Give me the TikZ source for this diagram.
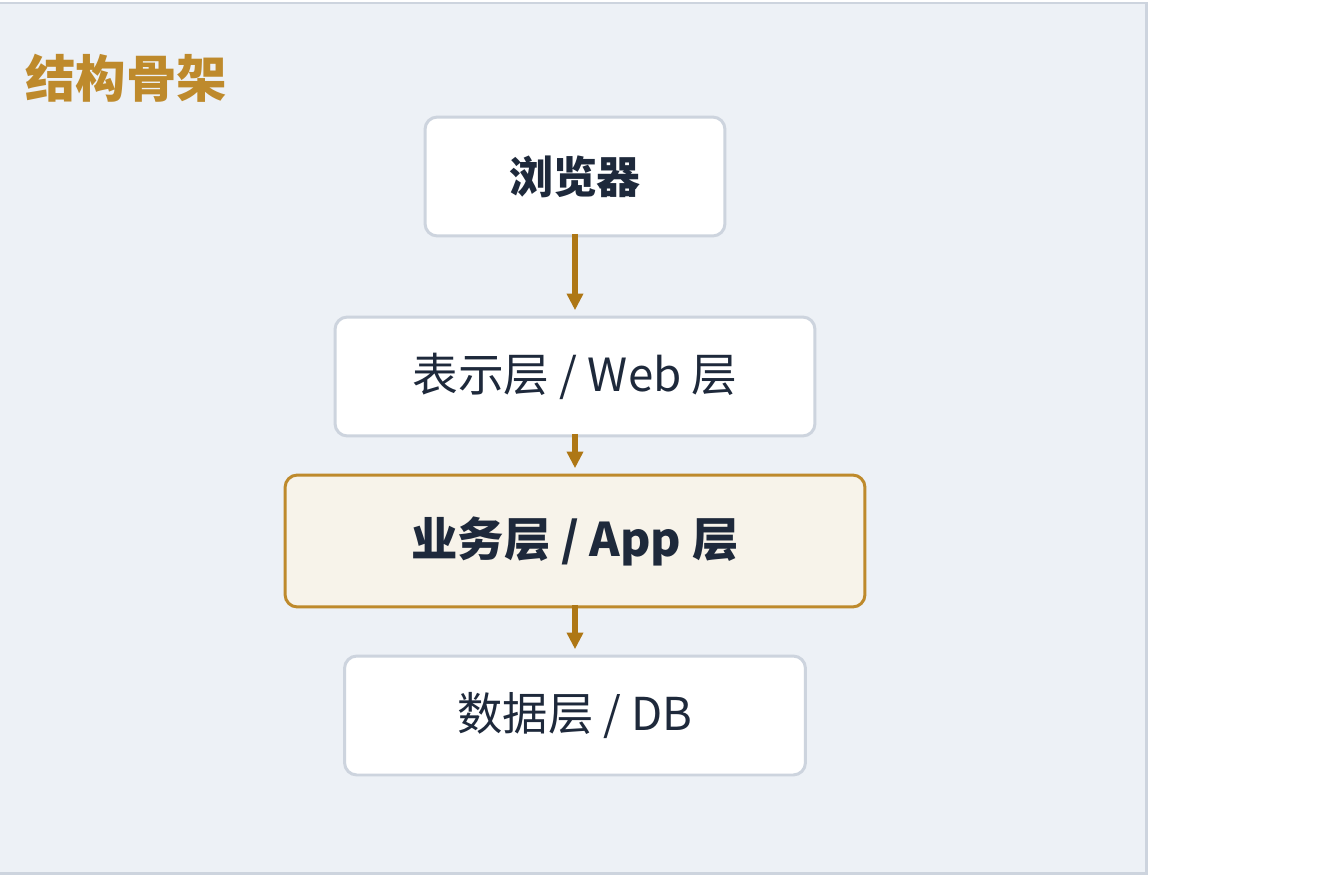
\documentclass[tikz,border=0pt]{standalone}
\usepackage{fontspec}
\setmainfont{Noto Sans CJK SC}
\usetikzlibrary{arrows.meta}

\definecolor{fond}{HTML}{EDF1F6}
\definecolor{bord}{HTML}{CDD4DE}
\definecolor{encre}{HTML}{1E293B}
\definecolor{ocre}{HTML}{BE8A2C}
\definecolor{fleche}{HTML}{AE7715}
\definecolor{creme}{HTML}{F7F3EA}

\tikzset{
  couche/.style={draw=bord, line width=1.7pt, fill=white, rounded corners=7pt,
    text=encre, font=\fontsize{26}{30}\selectfont, align=center},
  lien/.style={-{Triangle[length=9.5pt,width=9pt]}, draw=fleche,
    line width=3pt, shorten >=3pt, shorten <=-2pt}
}

\begin{document}
\begin{tikzpicture}[x=0.02cm,y=-0.02cm]

% Cadre
\useasboundingbox
(0,0)
rectangle
(1325,875);

\draw[draw=bord,fill=fond,line width=1.7pt]
(-5,3)
rectangle
(1146,873);

% Titre
\node[anchor=west,text=ocre,font=\fontsize{28.7}{34}\selectfont\bfseries]
(titre) at (19,78)
{结构骨架};

% Couches
\node[couche,minimum width=6cm,minimum height=2.38cm,
  font=\fontsize{25}{30}\selectfont\bfseries]
(navig) at (575,176.5)
{浏览器};

\node[couche,minimum width=9.6cm,minimum height=2.38cm]
(web) at (575,376.5)
{表示层 / Web 层};

\node[couche,draw=ocre,fill=creme,minimum width=11.6cm,minimum height=2.64cm,
  font=\fontsize{26.4}{30}\selectfont\bfseries]
(app) at (575,541)
{业务层 / App 层};

\node[couche,minimum width=9.22cm,minimum height=2.38cm,
  font=\fontsize{25.8}{30}\selectfont]
(db) at (575,715.5)
{数据层 / DB};

% Flèches
\draw[lien]
(navig.south)
--
(web.north);

\draw[lien]
(web.south)
--
(app.north);

\draw[lien]
(app.south)
--
(db.north);

\end{tikzpicture}
\end{document}
